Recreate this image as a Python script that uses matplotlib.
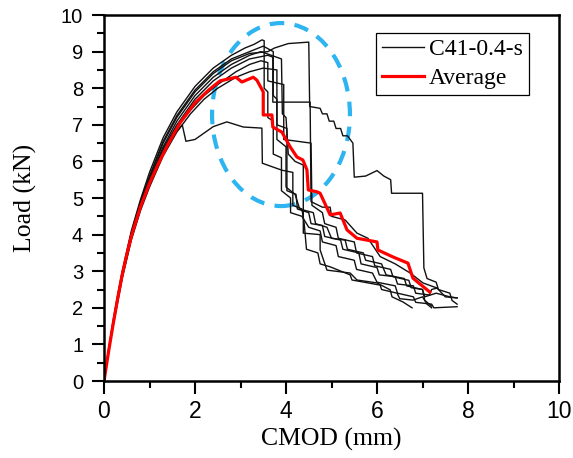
import matplotlib
matplotlib.use("Agg")
import matplotlib.pyplot as plt
from matplotlib.patches import Ellipse

# specimen curves C41-0.4-s (CMOD mm, load kN)
s1_x = [0, 0.1, 0.2, 0.3, 0.4, 0.6, 0.8, 1.0, 1.3, 1.6, 2.0, 2.4, 2.8, 3.1, 3.3, 3.47,
        3.52, 3.52, 3.6, 3.6, 3.72, 3.72, 3.9, 3.9, 4.1, 4.1, 4.35, 4.5, 4.75, 4.8, 5.1,
        5.15, 5.5, 5.55, 5.9, 6.0, 6.4, 6.45, 6.8, 6.85, 7.2, 7.25, 7.76]
s1_y = [0, 0.85, 1.65, 2.35, 3.0, 4.1, 4.95, 5.7, 6.65, 7.35, 8.05, 8.55, 8.9, 9.1, 9.2, 9.32,
        9.3, 8.0, 7.9, 7.2, 7.1, 6.2, 6.1, 5.2, 5.0, 4.6, 4.5, 4.2, 4.1, 3.8, 3.7,
        3.4, 3.3, 3.05, 2.95, 2.7, 2.6, 2.4, 2.3, 2.15, 2.1, 2.0, 2.03]

s2_x = [0, 0.1, 0.2, 0.3, 0.4, 0.6, 0.8, 1.0, 1.3, 1.6, 2.0, 2.4, 2.8, 3.2, 3.5,
        3.72, 3.72, 3.8, 3.8, 4.0, 4.0, 4.2, 4.3, 4.6, 4.65, 4.9, 5.0, 5.3, 5.35, 5.7,
        5.75, 6.1, 6.2, 6.6, 6.65, 7.0, 7.05, 7.3, 7.6, 7.76]
s2_y = [0, 0.85, 1.6, 2.3, 2.95, 4.05, 4.9, 5.6, 6.55, 7.25, 7.95, 8.45, 8.8, 9.0, 9.15,
        9.0, 7.8, 7.7, 6.6, 6.4, 5.3, 5.1, 4.7, 4.6, 4.3, 4.2, 3.9, 3.85, 3.6, 3.5,
        3.3, 3.2, 2.9, 2.8, 2.6, 2.5, 2.3, 2.4, 2.3, 2.27]

s3_x = [0, 0.1, 0.2, 0.3, 0.4, 0.6, 0.8, 1.0, 1.3, 1.6, 2.0, 2.4, 2.8, 3.2, 3.45,
        3.9, 3.92, 4.0, 4.05, 4.2, 4.38, 4.38, 4.75, 4.75, 4.9, 5.41, 5.56, 6.0, 6.29,
        6.33, 6.57, 6.77]
s3_y = [0, 0.8, 1.55, 2.25, 2.9, 3.95, 4.8, 5.5, 6.4, 7.1, 7.8, 8.3, 8.65, 8.9, 9.0,
        8.8, 7.3, 7.2, 6.2, 6.0, 5.9, 4.04, 4.0, 3.58, 3.03, 2.95, 2.76, 2.68, 2.49,
        2.3, 2.16, 2.0]

s4_x = [0, 0.1, 0.2, 0.3, 0.4, 0.6, 0.8, 1.0, 1.3, 1.6, 1.9, 2.2, 2.5, 2.9, 3.2, 3.45,
        3.6, 3.6, 3.95, 3.95, 4.55, 4.57, 4.8, 4.85, 5.1, 5.15, 5.5, 5.55, 5.9, 5.95,
        6.3, 6.35, 6.7, 6.75, 7.0, 7.05, 7.2]
s4_y = [0, 0.8, 1.55, 2.2, 2.85, 3.9, 4.7, 5.4, 6.3, 6.95, 7.4, 7.8, 8.1, 8.45, 8.65, 8.75,
        8.7, 8.2, 8.1, 6.6, 6.5, 4.8, 4.6, 4.3, 4.2, 3.9, 3.8, 3.5, 3.4, 3.15,
        3.05, 2.85, 2.75, 2.55, 2.5, 2.2, 2.05]

s5_x = [0, 0.1, 0.2, 0.3, 0.4, 0.6, 0.8, 1.0, 1.3, 1.6, 1.9, 2.2, 2.5, 2.9, 3.2, 3.5,
        3.8, 3.8, 4.02, 4.02, 4.22, 4.25, 4.5, 4.55, 4.8, 4.85, 5.2, 5.25, 5.6, 5.65,
        6.0, 6.05, 6.4, 6.45, 6.8, 6.85, 7.15, 7.2, 7.32]
s5_y = [0, 0.8, 1.5, 2.15, 2.8, 3.85, 4.65, 5.3, 6.15, 6.8, 7.3, 7.7, 8.0, 8.3, 8.45, 8.55,
        8.5, 7.0, 6.9, 5.2, 5.1, 4.7, 4.6, 4.3, 4.25, 3.95, 3.85, 3.6, 3.5, 3.2,
        3.1, 2.9, 2.85, 2.65, 2.6, 2.4, 2.35, 2.5, 2.54]

s6_x = [0, 0.1, 0.2, 0.3, 0.4, 0.6, 0.8, 1.0, 1.2, 1.45, 1.72, 1.8, 2.0, 2.4, 2.7, 3.06,
        3.47, 3.48, 3.91, 4.15, 4.15, 4.35, 4.4, 4.45, 4.7, 4.75, 4.97, 5.41, 5.45,
        6.07, 6.1, 6.44, 6.5, 6.79, 7.0, 7.1, 7.2]
s6_y = [0, 0.8, 1.55, 2.2, 2.85, 3.9, 4.75, 5.45, 6.05, 6.6, 7.0, 6.55, 6.6, 6.95, 7.08, 6.94,
        6.91, 5.95, 5.76, 5.7, 4.8, 4.7, 4.3, 3.6, 3.5, 3.2, 3.12, 2.9, 2.76,
        2.62, 2.5, 2.4, 2.25, 2.21, 2.3, 2.1, 2.0]

s7_x = [0, 0.1, 0.2, 0.3, 0.4, 0.6, 0.8, 1.0, 1.3, 1.6, 2.0, 2.4, 2.8, 3.2, 3.6, 3.75,
        4.05, 4.5, 4.52, 4.75, 4.8, 4.9, 4.95, 5.05, 5.1, 5.2, 5.25, 5.35, 5.47, 5.5,
        5.75, 6.0, 6.15, 6.3, 6.32, 7.0, 7.03, 7.1, 7.3, 7.35, 7.6, 7.65, 7.76]
s7_y = [0, 0.85, 1.6, 2.3, 2.95, 4.0, 4.85, 5.55, 6.5, 7.2, 7.9, 8.4, 8.75, 8.95, 9.0, 9.1,
        9.22, 9.26, 7.5, 7.45, 7.3, 7.3, 7.1, 7.1, 6.9, 6.9, 6.7, 6.7, 6.5, 5.57,
        5.6, 5.75, 5.6, 5.5, 5.13, 5.13, 3.09, 2.8, 2.7, 2.5, 2.4, 2.2, 2.1]

s8_x = [0, 0.1, 0.2, 0.3, 0.4, 0.6, 0.8, 1.0, 1.3, 1.6, 2.0, 2.4, 2.8, 3.2, 3.6, 3.71,
        3.71, 4.53, 4.55, 4.8, 4.97, 5.0, 5.3, 5.56, 5.8, 6.07, 6.4, 6.73, 7.01, 7.32,
        7.5, 7.76]
s8_y = [0, 0.8, 1.55, 2.25, 2.9, 3.95, 4.75, 5.45, 6.35, 7.0, 7.7, 8.2, 8.55, 8.8, 8.9, 8.85,
        7.62, 7.62, 4.9, 4.75, 4.75, 4.5, 4.4, 4.04, 3.9, 3.4, 3.2, 2.95, 2.68, 2.54,
        2.3, 2.27]

specimens = [(s1_x, s1_y), (s2_x, s2_y), (s3_x, s3_y), (s4_x, s4_y),
             (s5_x, s5_y), (s6_x, s6_y), (s7_x, s7_y), (s8_x, s8_y)]

# average curve
avg_x = [0, 0.1, 0.2, 0.3, 0.4, 0.5, 0.6, 0.8, 1.0, 1.2, 1.4, 1.67, 2.0, 2.3, 2.55, 2.9,
         3.03, 3.28, 3.36, 3.5, 3.5, 3.69, 3.71, 3.91, 4.09, 4.24, 4.37, 4.46, 4.49,
         4.68, 4.75, 4.97, 5.19, 5.34, 5.56, 6.0, 6.02, 6.35, 6.68, 6.79, 7.16]
avg_y = [0, 0.8, 1.55, 2.25, 2.9, 3.45, 3.95, 4.75, 5.4, 5.95, 6.45, 7.05, 7.6, 7.95, 8.2, 8.3,
         8.17, 8.3, 8.22, 7.9, 7.27, 7.27, 6.94, 6.8, 6.4, 6.12, 6.04, 5.77, 5.22,
         5.17, 5.13, 4.54, 4.59, 4.13, 3.9, 3.8, 3.58, 3.39, 3.22, 2.81, 2.43]

fig = plt.figure(figsize=(5.73, 4.58), dpi=100)
ax = fig.add_axes([0.1815, 0.1681, 0.7941, 0.7991])

for i, (sx, sy) in enumerate(specimens):
    ax.plot(sx, sy, color="#111111", lw=1.0,
            label="C41-0.4-s" if i == 0 else None)
ax.plot(avg_x, avg_y, color="#ff0000", lw=2.3, label="Average")

# dashed highlight around the peak region
ell = Ellipse((3.89, 7.28), 3.03, 5.0, fill=False, edgecolor="#2eb4f0",
              lw=3.0, linestyle=(0, (3.5, 2.5)))
ax.add_patch(ell)

ax.set_xlim(0, 10)
ax.set_ylim(0, 10)
ax.set_xticks(range(0, 11, 2))
ax.set_xticks(range(1, 10, 2), minor=True)
ax.set_yticks(range(0, 11))
ax.set_yticks([v + 0.5 for v in range(10)], minor=True)

for side in ax.spines.values():
    side.set_linewidth(1.8)
ax.tick_params(axis="both", which="both", direction="out", width=1.5)
ax.tick_params(axis="both", which="major", length=9)
ax.tick_params(axis="both", which="minor", length=4.7)
ax.tick_params(axis="x", which="major", labelsize=16.5, pad=5)
ax.tick_params(axis="y", which="major", labelsize=14.5, pad=6)
for lab in ax.get_xticklabels() + ax.get_yticklabels():
    lab.set_family("Liberation Sans")

ax.set_xlabel("CMOD (mm)", family="Liberation Serif", fontsize=18.5, labelpad=3)
ax.set_ylabel("Load (kN)", family="Liberation Serif", fontsize=18.5, labelpad=17)

leg = ax.legend(loc="upper right", bbox_to_anchor=(0.934, 0.951), borderaxespad=0,
                prop={"family": "Liberation Serif", "size": 17}, fancybox=False,
                framealpha=1, edgecolor="black", handlelength=1.8,
                handletextpad=0.2, borderpad=0.25, labelspacing=0.3)
leg.get_frame().set_linewidth(0.9)

fig.savefig("out.png", dpi=100)
